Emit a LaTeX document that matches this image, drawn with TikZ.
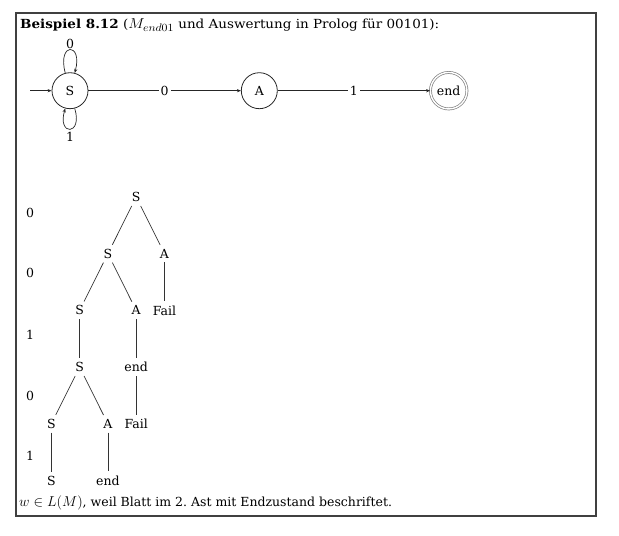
\documentclass[tikz,border=0pt]{standalone}
\usepackage{fontspec}
\setmainfont{DejaVu Serif}
\usetikzlibrary{arrows.meta}
\newcommand{\bigmath}[1]{\mbox{\fontsize{15bp}{17bp}\selectfont$#1$}}
\begin{document}
\begin{tikzpicture}[x=1bp,y=-1bp,
  every node/.style={font=\fontsize{12.5bp}{15bp}\selectfont},
  state/.style={circle, draw=black!85, minimum size=36bp, inner sep=0pt, line width=0.8bp},
  final/.style={state, double, draw=black!50, double distance=1.4bp, minimum size=36.5bp, line width=0.7bp},
  arr/.style={draw=black!85, line width=0.7bp, -{Stealth[length=4bp,width=3.2bp]}},
  lbl/.style={fill=white, inner sep=2bp},
  tn/.style={inner sep=4bp},
  te/.style={draw=black!80, line width=0.7bp},
  lvl/.style={inner sep=1bp}]
\useasboundingbox (0,0) rectangle (619,536);
\draw[line width=1.2bp, draw=black!75] (16,13) rectangle (596,516);

% title
\node[anchor=base west, inner sep=0pt] (title) at (20,29)
  {\scalebox{1.08}[1]{\textbf{Beispiel 8.12} (\bigmath{M_{end01}} und Auswertung in Prolog für 00101):}};

% automaton
\node[state] (S) at (70,90.7) {S};
\node[state] (A) at (259.3,90.7) {A};
\node[final] (E) at (448.7,90.7) {end};
\coordinate (init) at (30,90.7);
\draw[arr] (init) -- (S);
\draw[arr] (S) -- node[lbl] (e0) {0} (A);
\draw[arr] (A) -- node[lbl] (e1) {1} (E);
\draw[arr] (S.105) .. controls (57,42) and (83,42) .. (S.75);
\draw[arr] (S.285) .. controls (83,136) and (57,136) .. (S.255);
\node[lvl] (lp0) at (70,43.5) {0};
\node[lvl] (lp1) at (70,136.7) {1};

% tree
\node[tn] (t0)  at (136.2,197)   {S};
\node[tn] (t1a) at (107.9,253.7) {S};
\node[tn] (t1b) at (164.5,253.7) {A};
\node[tn] (t2a) at (79.6,310.4)  {S};
\node[tn] (t2b) at (136.2,310.4) {A};
\node[tn] (t2c) at (164.5,310.4) {Fail};
\node[tn] (t3a) at (79.6,367.1)  {S};
\node[tn] (t3b) at (136.2,367.1) {end};
\node[tn] (t4a) at (51.3,423.8)  {S};
\node[tn] (t4b) at (107.9,423.8) {A};
\node[tn] (t4c) at (136.2,423.8) {Fail};
\node[tn] (t5a) at (51.3,480.5)  {S};
\node[tn] (t5b) at (107.9,480.5) {end};

\draw[te] (t0) -- (t1a);
\draw[te] (t0) -- (t1b);
\draw[te] (t1a) -- (t2a);
\draw[te] (t1a) -- (t2b);
\draw[te] (t1b) -- (t2c);
\draw[te] (t2a) -- (t3a);
\draw[te] (t2b) -- (t3b);
\draw[te] (t3a) -- (t4a);
\draw[te] (t3a) -- (t4b);
\draw[te] (t3b) -- (t4c);
\draw[te] (t4a) -- (t5a);
\draw[te] (t4b) -- (t5b);

% level labels
\node[lvl] (L1) at (30,212.5) {0};
\node[lvl] (L2) at (30,272.5) {0};
\node[lvl] (L3) at (30,334.5) {1};
\node[lvl] (L4) at (30,396)   {0};
\node[lvl] (L5) at (30,455.5) {1};

% bottom text
\node[anchor=base west, inner sep=0pt] (foot) at (19,506.5)
  {\bigmath{w \in L(M)}, weil Blatt im 2.\ Ast mit Endzustand beschriftet.};
\end{tikzpicture}
\end{document}
